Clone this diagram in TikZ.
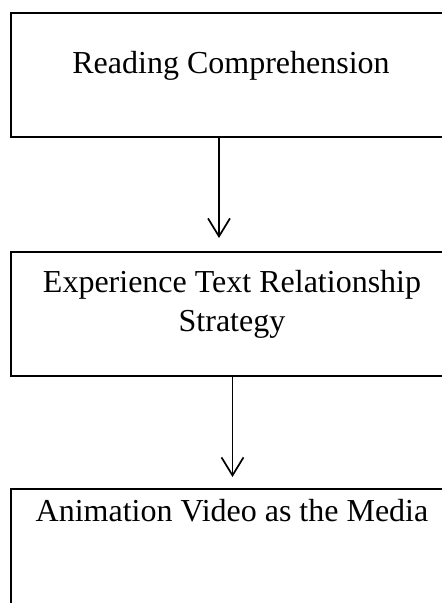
\documentclass[tikz,border=0pt]{standalone}
\usepackage{fontspec}
\setmainfont{Liberation Serif}
\usetikzlibrary{arrows.meta}
\begin{document}
\begin{tikzpicture}[x=1pt,y=-1pt,
  boxstyle/.style={draw=black,line width=2.4pt,rectangle,minimum width=444pt,minimum height=124pt,inner sep=0pt,outer sep=0pt},
  txt/.style={anchor=base,inner sep=0pt,font=\fontsize{32}{38.4}\selectfont},
  arr/.style={draw=black,line width=1.7pt,-{Straight Barb[length=18pt,width=22pt,line width=1.7pt]}}]
\useasboundingbox (0,0) rectangle (442,603);
\clip (0,0) rectangle (442,603);
\node[boxstyle] (box1) at (233,75) {};
\node[boxstyle] (box2) at (233,314) {};
\node[boxstyle] (box3) at (233,551) {};
\node[txt] (t1) at (231,73) {Reading Comprehension};
\node[txt] (t2a) at (232,292) {Experience Text Relationship};
\node[txt] (t2b) at (232,331) {Strategy};
\node[txt] (t3) at (232,521) {Animation Video as the Media};
\coordinate (a1) at (219,0);
\coordinate (a2) at (232.5,0);
\draw[arr,shorten >=14pt] (a1 |- box1.south) -- (a1 |- box2.north);
\draw[arr,shorten >=12pt] (a2 |- box2.south) -- (a2 |- box3.north);
\end{tikzpicture}
\end{document}
